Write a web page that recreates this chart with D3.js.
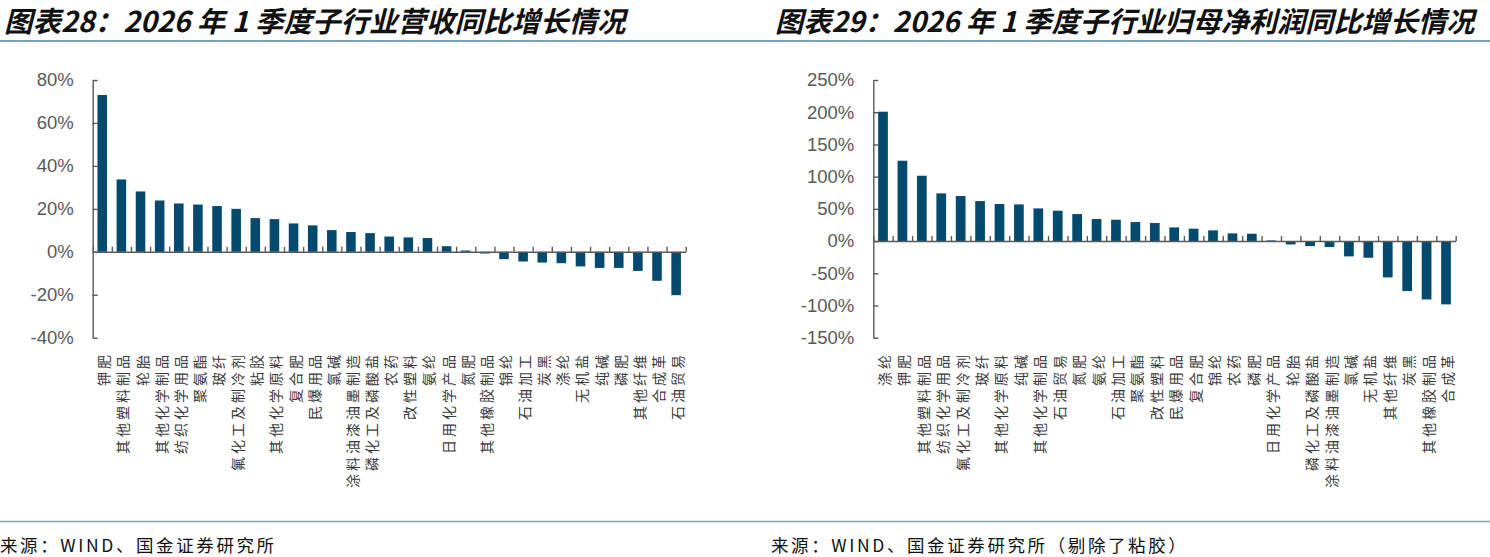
<!DOCTYPE html>
<html>
<head>
<meta charset="utf-8">
<script src="https://cdn.jsdelivr.net/npm/d3@7"></script>
<style>
  html, body { margin: 0; padding: 0; background: #fff; }
  svg { display: block; }
</style>
</head>
<body>
<svg id="chart" width="1490" height="557"></svg>
<script>
// ---- Data ----
const revCategories = ["钾肥","其他塑料制品","轮胎","其他化学制品","纺织化学用品","聚氨酯","玻纤","氟化工及制冷剂","粘胶","其他化学原料","复合肥","民爆用品","氯碱","涂料油漆油墨制造","磷化工及磷酸盐","农药","改性塑料","氨纶","日用化学产品","氮肥","其他橡胶制品","锦纶","石油加工","炭黑","涤纶","无机盐","纯碱","磷肥","其他纤维","合成革","石油贸易"];
const revValues = [73.0,33.7,28.1,23.9,22.5,22.0,21.3,20.0,15.7,15.2,13.2,12.3,10.1,9.2,8.7,7.1,6.7,6.4,2.6,0.6,-0.8,-3.4,-4.5,-5.0,-5.3,-6.8,-7.5,-7.5,-8.9,-13.5,-20.2];
const revTicks = [-40,-20,0,20,40,60,80];

const profitCategories = ["涤纶","钾肥","其他塑料制品","纺织化学用品","氟化工及制冷剂","玻纤","其他化学原料","纯碱","其他化学制品","石油贸易","氮肥","氨纶","石油加工","聚氨酯","改性塑料","民爆用品","复合肥","锦纶","农药","磷肥","日用化学产品","轮胎","磷化工及磷酸盐","涂料油漆油墨制造","氯碱","无机盐","其他纤维","炭黑","其他橡胶制品","合成革"];
const profitValues = [200.8,124.7,101.4,74.0,69.9,62.1,57.5,56.9,50.7,47.1,41.9,34.2,33.1,29.5,28.0,21.2,19.2,16.6,11.9,11.4,1.0,-5.2,-7.8,-9.3,-23.8,-25.9,-56.4,-77.6,-90.6,-98.3];
const profitTicks = [-150,-100,-50,0,50,100,150,200,250];

const titles = ["图表28：2026 年 1 季度子行业营收同比增长情况", "图表29：2026 年 1 季度子行业归母净利润同比增长情况"];
const sources = ["来源：WIND、国金证券研究所", "来源：WIND、国金证券研究所（剔除了粘胶）"];

// ---- Drawing ----
const svg = d3.select("#chart");
const BAR = "#034a6e";
const AX = "#595959";
const CJK = "'Noto Sans CJK SC', 'Noto Sans', sans-serif";

// header / footer rules
svg.append("line").attr("x1",0).attr("x2",1490).attr("y1",41).attr("y2",41)
  .attr("stroke","#4f7f9c").attr("stroke-width",1.5);
svg.append("line").attr("x1",0).attr("x2",1490).attr("y1",521.5).attr("y2",521.5)
  .attr("stroke","#86a3b6").attr("stroke-width",1.5);

const titleX = [4, 775];
const titleSize = [28.5, 28.2];
titles.forEach((t,i) => {
  svg.append("text").attr("x", titleX[i]).attr("y", 32)
    .attr("font-family", CJK).attr("font-size", titleSize[i]).attr("font-weight", 700)
    .attr("font-style","italic").attr("fill","#111").text(t);
});
const srcX = [0, 771];
sources.forEach((t,i) => {
  svg.append("text").attr("x", srcX[i]).attr("y", 552)
    .attr("font-family", CJK).attr("font-size", 17.5).attr("letter-spacing", 2.6)
    .attr("fill","#111").text(t);
});

function drawChart(cats, vals, ticks, x0, x1) {
  const yTop = 80, yBot = 337.7;
  const y = d3.scaleLinear().domain([ticks[0], ticks[ticks.length-1]]).range([yBot, yTop]);
  const x = d3.scaleBand().domain(cats).range([x0, x1]).paddingInner(0.5).paddingOuter(0.25);
  const g = svg.append("g");

  // bars
  g.selectAll("rect.bar").data(vals).enter().append("rect")
    .attr("class","bar")
    .attr("x", (d,i) => x(cats[i]))
    .attr("width", x.bandwidth())
    .attr("y", d => y(Math.max(0,d)))
    .attr("height", d => Math.max(1, Math.abs(y(d) - y(0))))
    .attr("fill", BAR);

  // y axis
  const yAxis = d3.axisLeft(y).tickValues(ticks).tickSizeInner(-5).tickSizeOuter(0)
    .tickPadding(19).tickFormat(d => d + "%");
  const ya = g.append("g").attr("transform", `translate(${x0},0)`).call(yAxis);
  ya.select(".domain").attr("stroke", AX).attr("stroke-width", 1.4);
  ya.selectAll(".tick line").attr("stroke", AX).attr("stroke-width", 1.4);
  ya.selectAll(".tick text").attr("font-family","'Liberation Sans', Arial, sans-serif")
    .attr("font-size", 18.5).attr("fill", "#595959");

  // x axis (zero line with category boundary ticks, inward)
  const n = cats.length;
  const xb = d3.scaleLinear().domain([0, n]).range([x0, x1]);
  const xAxis = d3.axisBottom(xb).tickValues(d3.range(n+1)).tickSizeInner(-5).tickSizeOuter(0).tickFormat("");
  const xa = g.append("g").attr("transform", `translate(0,${y(0)})`).call(xAxis);
  xa.select(".domain").attr("stroke", AX).attr("stroke-width", 1.6);
  xa.selectAll(".tick line").attr("stroke", AX).attr("stroke-width", 1.4);

  // rotated category labels (reading bottom-to-top, end aligned at top)
  g.append("g").selectAll("text").data(cats).enter().append("text")
    .attr("transform", c => `translate(${x(c) + x.bandwidth()/2 + 1},352) rotate(-90)`)
    .attr("text-anchor","end")
    .attr("dominant-baseline","central")
    .attr("font-family", CJK).attr("font-size", 14).attr("letter-spacing", 3)
    .attr("fill","#3a3a3a")
    .text(c => c);
}

drawChart(revCategories, revValues, revTicks, 92.7, 685.7);
drawChart(profitCategories, profitValues, profitTicks, 873.3, 1455.7);
</script>
</body>
</html>
